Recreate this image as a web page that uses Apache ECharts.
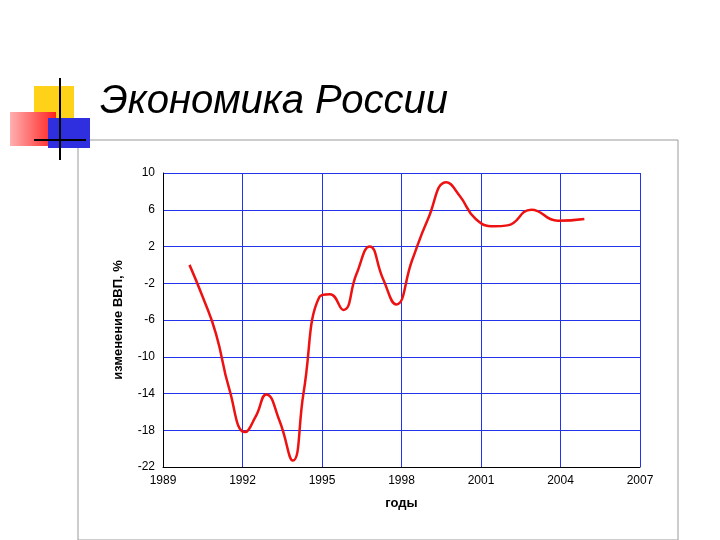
<!DOCTYPE html>
<html><head><meta charset="utf-8">
<script src="https://cdn.jsdelivr.net/npm/echarts@6/dist/echarts.min.js"></script>
<style>html,body{margin:0;background:#fff}#c{width:720px;height:540px}</style>
</head><body><div id="c"></div>
<script>
// curve points: [year, change %]
const years = [1990, 1990.5, 1991, 1991.5, 1992.1, 1992.5, 1992.9, 1993.4, 1993.9, 1994.3, 1994.9, 1995.3, 1995.8, 1996.3, 1996.8, 1997.3, 1997.8, 1998.4, 1999, 1999.7, 2000.2, 2000.8, 2001.5, 2002, 2002.9, 2003.9, 2004.9];
const gdp = [0, -3.5, -7.5, -13.5, -18.2, -16.5, -14.1, -17, -21.3, -14, -3.5, -3.2, -4.9, -1, 2, -1.5, -4.3, 0.5, 5, 9, 7.5, 5, 4.2, 4.3, 6, 4.8, 5];
const yTicks = [10, 6, 2, -2, -6, -10, -14, -18, -22];

const chart = echarts.init(document.getElementById('c'));
chart.setOption({
  animation: false,
  graphic: [
    { type: 'rect', shape: { x: 78, y: 140, width: 600, height: 400 }, style: { fill: 'none', stroke: '#9a9a9a', lineWidth: 1 } },
    { type: 'rect', shape: { x: 34, y: 86, width: 40, height: 40 }, style: { fill: '#ffd21a' } },
    { type: 'rect', shape: { x: 10, y: 112, width: 46, height: 34 }, style: { fill: new echarts.graphic.LinearGradient(0, 0, 1, 0, [{ offset: 0, color: '#ffb0b0' }, { offset: 1, color: '#ff2020' }]) } },
    { type: 'rect', shape: { x: 48, y: 118, width: 42, height: 30 }, style: { fill: '#2f2fe0' } },
    { type: 'line', shape: { x1: 60, y1: 78, x2: 60, y2: 160 }, style: { stroke: '#000', lineWidth: 2 } },
    { type: 'line', shape: { x1: 34, y1: 140, x2: 86, y2: 140 }, style: { stroke: '#000', lineWidth: 2 } },
    { type: 'text', left: 100, top: 82, style: { text: 'Экономика России', font: 'italic 40px "Liberation Sans", Arial', fill: '#000' } }
  ],
  grid: { left: 163, right: 80, top: 173, bottom: 73 },
  xAxis: {
    type: 'value', min: 1989, max: 2007, interval: 3,
    name: 'годы', nameLocation: 'middle', nameGap: 30,
    nameTextStyle: { fontWeight: 'bold', fontSize: 13, color: '#000', fontFamily: 'Liberation Sans' },
    axisLine: { onZero: false, lineStyle: { color: '#000' } }, axisTick: { show: false },
    axisLabel: { color: '#000', fontSize: 12, fontFamily: 'Liberation Sans', formatter: v => String(v) },
    splitLine: { lineStyle: { color: '#2233ee', width: 1 } }
  },
  yAxis: {
    type: 'value', min: -22, max: 10, interval: 4,
    name: 'изменение ВВП, %', nameLocation: 'middle', nameGap: 38,
    nameTextStyle: { fontWeight: 'bold', fontSize: 13, color: '#000', fontFamily: 'Liberation Sans' },
    axisLine: { show: true, lineStyle: { color: '#000' } }, axisTick: { show: false },
    axisLabel: { color: '#000', fontSize: 12, fontFamily: 'Liberation Sans', formatter: v => yTicks.includes(v) ? String(v) : '' },
    splitLine: { lineStyle: { color: '#2233ee', width: 1 } }
  },
  series: [{
    type: 'line', smooth: 0.5, symbol: 'none',
    data: years.map((y, i) => [y, gdp[i]]),
    lineStyle: { color: '#ee1111', width: 2.5 }
  }]
});
</script></body></html>
